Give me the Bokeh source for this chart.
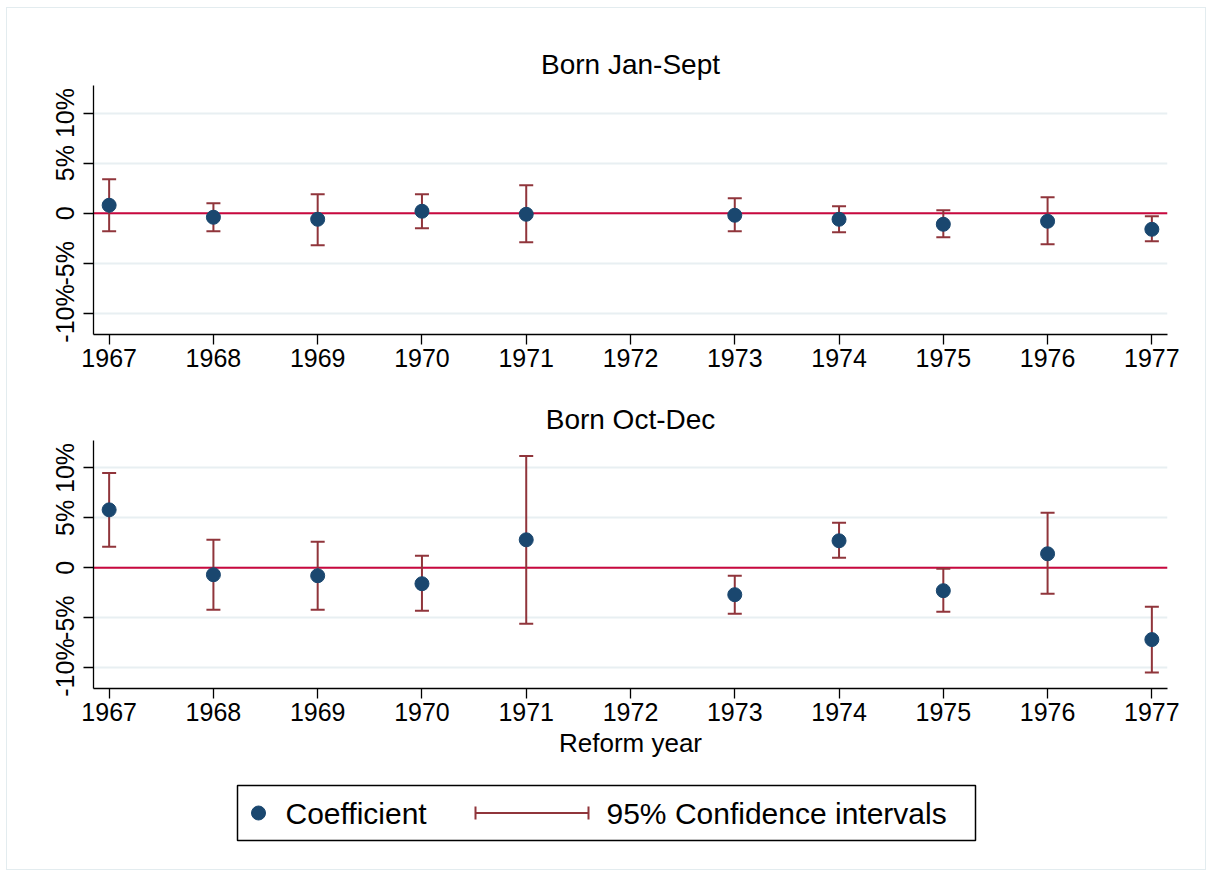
from bokeh.plotting import figure
from bokeh.models import (ColumnDataSource, Range1d, FixedTicker, Whisker, TeeHead, Span)
from bokeh.layouts import column
from bokeh.embed import file_html
from bokeh.resources import INLINE
from bokeh.core.properties import value

# ---------------- data (percent) ----------------
years = [1967, 1968, 1969, 1970, 1971, 1973, 1974, 1975, 1976, 1977]
tick_years = [1967, 1968, 1969, 1970, 1971, 1972, 1973, 1974, 1975, 1976, 1977]

jan_coef = [0.8, -0.4, -0.6, 0.2, -0.1, -0.2, -0.6, -1.1, -0.8, -1.6]
jan_lo = [-1.8, -1.8, -3.2, -1.5, -2.9, -1.8, -1.9, -2.4, -3.1, -2.8]
jan_hi = [3.4, 1.0, 1.9, 1.9, 2.8, 1.5, 0.7, 0.3, 1.6, -0.3]

oct_coef = [5.8, -0.7, -0.8, -1.6, 2.8, -2.7, 2.7, -2.3, 1.4, -7.2]
oct_lo = [2.1, -4.2, -4.2, -4.3, -5.6, -4.6, 1.0, -4.4, -2.6, -10.5]
oct_hi = [9.5, 2.8, 2.6, 1.2, 11.2, -0.8, 4.5, -0.1, 5.5, -3.9]

y_ticks = [-10, -5, 0, 5, 10]
y_tick_labels = ["-10%", "-5%", "0", "5%", "10%"]

titles = ["Born Jan-Sept", "Born Oct-Dec"]
x_title = "Reform year"
legend_labels = ["Coefficient", "95% Confidence intervals"]

NAVY = "#1a476f"
MAROON = "#90353b"
ZERO = "#c9083e"
GRID = "#e8eff2"
FONT = "Liberation Sans"

W = 1198
ML = 86   # left border -> frame left at page x 93
MR = 38   # right border -> frame right at page x 1167
FRAME_L = 7 + ML
FRAME_R = 7 + W - MR


def panel(title, coef, lo, hi, height, top, bottom, xlabel=None):
    p = figure(width=W, height=height, output_backend="svg", toolbar_location=None,
               x_range=Range1d(1966.85, 1977.15), y_range=Range1d(-12.1, 12.75),
               min_border_left=ML, min_border_right=MR,
               min_border_top=top, min_border_bottom=bottom,
               title=title)
    p.outline_line_color = None
    p.background_fill_color = "white"
    p.border_fill_color = "white"
    p.title.align = "center"
    p.title.text_font = FONT
    p.title.text_font_size = "28px"
    p.title.text_font_style = "normal"
    p.title.text_color = "black"
    p.title.standoff = 12

    p.xgrid.visible = False
    p.ygrid.ticker = FixedTicker(ticks=y_ticks)
    p.ygrid.grid_line_color = GRID
    p.ygrid.grid_line_width = 2

    xa = p.xaxis[0]
    xa.ticker = FixedTicker(ticks=tick_years)
    xa.major_label_overrides = {y: str(y) for y in tick_years}
    ya = p.yaxis[0]
    ya.ticker = FixedTicker(ticks=y_ticks)
    ya.major_label_overrides = {t: l for t, l in zip(y_ticks, y_tick_labels)}
    ya.major_label_orientation = "vertical"
    for ax in (xa, ya):
        ax.axis_line_color = "black"
        ax.axis_line_width = 1.3
        ax.major_tick_line_color = "black"
        ax.major_tick_line_width = 1.3
        ax.major_tick_out = 10
        ax.major_tick_in = 0
        ax.minor_tick_line_color = None
        ax.major_label_text_font = FONT
        ax.major_label_text_font_size = "25px"
        ax.major_label_text_color = "black"
        ax.major_label_standoff = 4
    if xlabel:
        xa.axis_label = xlabel
        xa.axis_label_text_font = FONT
        xa.axis_label_text_font_size = "26px"
        xa.axis_label_text_font_style = "normal"
        xa.axis_label_text_color = "black"
        xa.axis_label_standoff = 4

    zero = Span(location=0, dimension="width", line_color=ZERO, line_width=2, level="underlay")
    p.add_layout(zero)

    src = ColumnDataSource(dict(x=years, coef=coef, lo=lo, hi=hi))
    w = Whisker(source=src, base="x", lower="lo", upper="hi", dimension="height",
                line_color=MAROON, line_width=2,
                upper_head=TeeHead(size=14, line_color=MAROON, line_width=2),
                lower_head=TeeHead(size=14, line_color=MAROON, line_width=2))
    p.add_layout(w)
    p.scatter("x", "coef", source=src, size=14, fill_color=NAVY, line_color=NAVY,
              level="overlay")
    return p


p1 = panel(titles[0], jan_coef, jan_lo, jan_hi, 367, 77, 41)
p2 = panel(titles[1], oct_coef, oct_lo, oct_hi, 390, 65, 77, xlabel=x_title)

# ---------------- legend (decoration, page-pixel space; frame aligned with panels) ----------------
LH = 104
pl = figure(width=W, height=LH, output_backend="svg", toolbar_location=None,
            x_range=Range1d(FRAME_L, FRAME_R), y_range=Range1d(LH, 0),
            x_axis_type=None, y_axis_type=None,
            min_border_left=ML, min_border_right=MR,
            min_border_top=0, min_border_bottom=0)
pl.grid.visible = False
pl.outline_line_color = None
pl.border_fill_color = "white"
pl.quad(left=[237], right=[975], top=[20], bottom=[75], fill_color="white",
        line_color="black", line_width=1.5)
pl.scatter([258], [47.5], size=14, fill_color=NAVY, line_color=NAVY)
pl.segment(x0=[475], y0=[47.5], x1=[588], y1=[47.5], line_color=MAROON, line_width=2)
pl.segment(x0=[475, 588], y0=[41, 41], x1=[475, 588], y1=[54, 54],
           line_color=MAROON, line_width=2)
pl.text(x=[285, 606], y=[48, 48], text=legend_labels, text_font=value(FONT),
        text_font_size="30px", text_baseline="middle", text_color="black")

layout = column(p1, p2, pl, spacing=0,
                styles={"border": "1px solid #e3ecef", "margin-left": "6px", "margin-top": "7px"})

open("out.html", "w").write(file_html(layout, INLINE))
